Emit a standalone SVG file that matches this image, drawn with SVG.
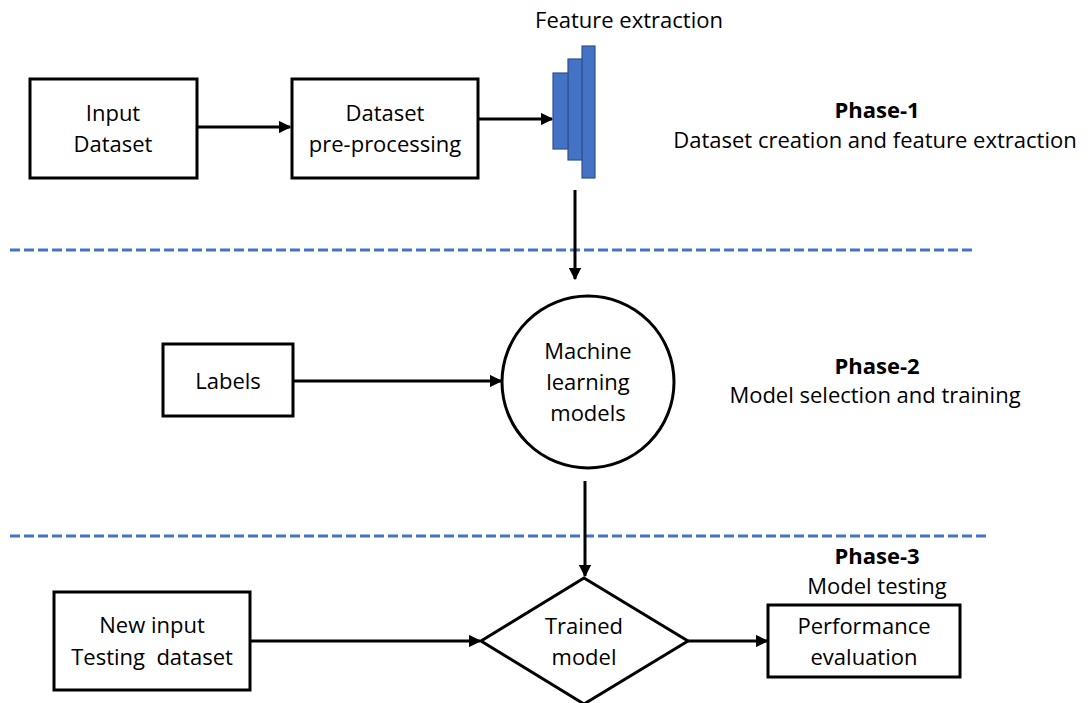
<svg xmlns="http://www.w3.org/2000/svg" width="1091" height="703" viewBox="0 0 1091 703">
  <defs>
    <style>
      .box { fill: #ffffff; stroke: #000000; stroke-width: 3; }
      .feat { fill: #4472C4; stroke: #2F528F; stroke-width: 1.2; }
      .edge { stroke: #000000; stroke-width: 3; fill: none; }
      .sep { stroke: #4472C4; stroke-width: 3; stroke-dasharray: 10 4; fill: none; }
      .t { font-family: "Open Sans", "Liberation Sans", sans-serif; font-size: 22px; fill: #000000; text-anchor: middle; }
      .b { font-weight: bold; }
    </style>
    <marker id="arrow" viewBox="0 0 10 10" refX="9" refY="5" markerWidth="4.2" markerHeight="4.2" orient="auto" markerUnits="strokeWidth">
      <path d="M0,0 L10,5 L0,10 z" fill="#000000"/>
    </marker>
  </defs>

  <rect width="1091" height="703" fill="#ffffff"/>

  <!-- phase separators -->
  <g id="separators">
    <line class="sep" x1="10" y1="250" x2="976" y2="250"/>
    <line class="sep" x1="10" y1="536" x2="986" y2="536"/>
  </g>

  <!-- connectors -->
  <g id="connectors">
    <line class="edge" x1="197" y1="127" x2="290" y2="127" marker-end="url(#arrow)"/>
    <line class="edge" x1="478" y1="119" x2="552" y2="119" marker-end="url(#arrow)"/>
    <line class="edge" x1="575" y1="190" x2="575" y2="279" marker-end="url(#arrow)"/>
    <line class="edge" x1="293" y1="381" x2="501" y2="381" marker-end="url(#arrow)"/>
    <line class="edge" x1="585" y1="481" x2="585" y2="576" marker-end="url(#arrow)"/>
    <line class="edge" x1="250" y1="641" x2="480" y2="641" marker-end="url(#arrow)"/>
    <line class="edge" x1="688" y1="641" x2="767" y2="641" marker-end="url(#arrow)"/>
  </g>

  <!-- Phase 1 -->
  <g id="input-dataset">
    <rect class="box" x="30" y="79" width="167" height="99"/>
    <text class="t" x="113" y="121">Input</text>
    <text class="t" x="113" y="152">Dataset</text>
  </g>

  <g id="preprocessing">
    <rect class="box" x="292" y="79" width="186" height="99"/>
    <text class="t" x="385" y="121">Dataset</text>
    <text class="t" x="385" y="152">pre-processing</text>
  </g>

  <g id="feature-extraction">
    <rect class="feat" x="582" y="46" width="13" height="132"/>
    <rect class="feat" x="568" y="59" width="14" height="101"/>
    <rect class="feat" x="553" y="73" width="15" height="76"/>
    <text class="t" x="629" y="28">Feature extraction</text>
  </g>

  <g id="phase-1">
    <text class="t b" x="877" y="118">Phase-1</text>
    <text class="t" x="875" y="148">Dataset creation and feature extraction</text>
  </g>

  <!-- Phase 2 -->
  <g id="labels">
    <rect class="box" x="163" y="344" width="130" height="72"/>
    <text class="t" x="228" y="389">Labels</text>
  </g>

  <g id="ml-models">
    <circle class="box" cx="588" cy="382" r="86"/>
    <text class="t" x="588" y="359">Machine</text>
    <text class="t" x="588" y="390">learning</text>
    <text class="t" x="588" y="421">models</text>
  </g>

  <g id="phase-2">
    <text class="t b" x="877" y="374">Phase-2</text>
    <text class="t" x="875" y="403">Model selection and training</text>
  </g>

  <!-- Phase 3 -->
  <g id="new-input">
    <rect class="box" x="54" y="592" width="196" height="98"/>
    <text class="t" x="152" y="633">New input</text>
    <text class="t" x="152" y="665" xml:space="preserve">Testing  dataset</text>
  </g>

  <g id="trained-model">
    <polygon class="box" points="584,578 688,641 584,704 481,641"/>
    <text class="t" x="584" y="634">Trained</text>
    <text class="t" x="584" y="665">model</text>
  </g>

  <g id="performance">
    <rect class="box" x="768" y="605" width="192" height="72"/>
    <text class="t" x="864" y="634">Performance</text>
    <text class="t" x="864" y="665">evaluation</text>
  </g>

  <g id="phase-3">
    <text class="t b" x="877" y="564">Phase-3</text>
    <text class="t" x="877" y="594">Model testing</text>
  </g>
</svg>
